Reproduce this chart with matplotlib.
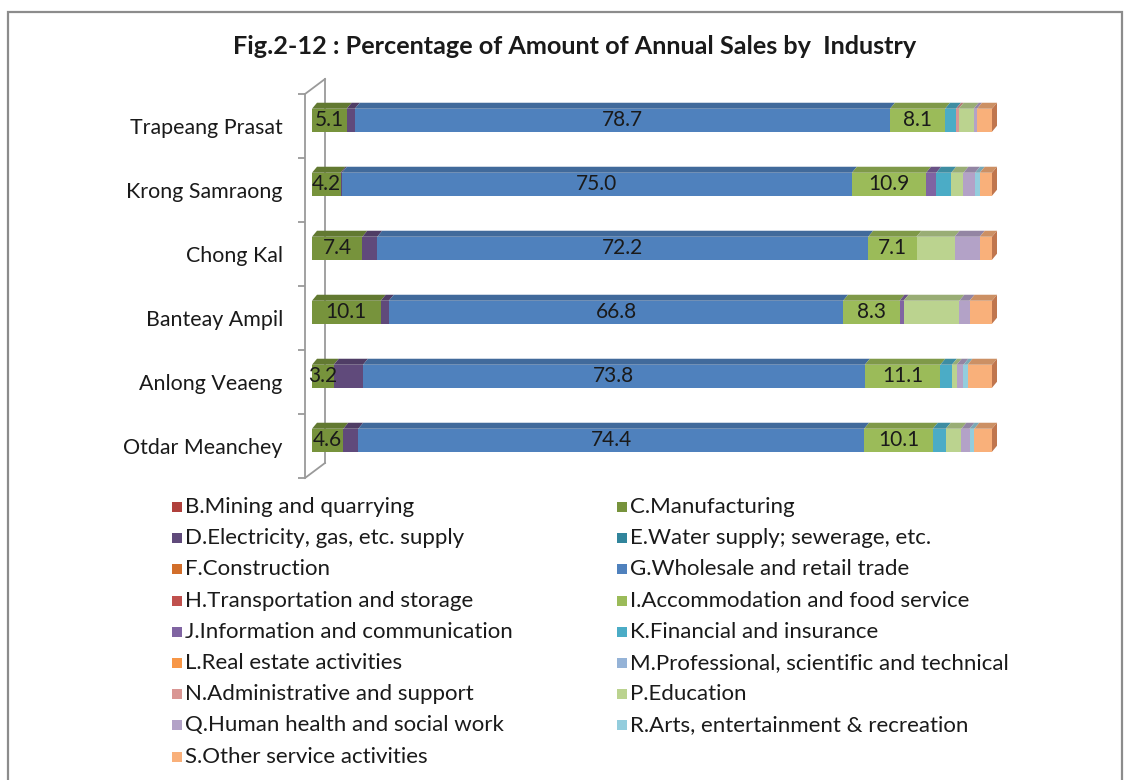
import matplotlib
matplotlib.use("Agg")
import matplotlib.pyplot as plt
from matplotlib.patches import Polygon, Rectangle
import matplotlib.colors as mcolors
import numpy as np

plt.rcParams['font.family'] = ['Lato', 'DejaVu Sans']

# regions, bottom to top
regions = ["Otdar Meanchey", "Anlong Veaeng", "Banteay Ampil",
           "Chong Kal", "Krong Samraong", "Trapeang Prasat"]

industries = ["B.Mining and quarrying", "C.Manufacturing",
              "D.Electricity, gas, etc. supply", "E.Water supply; sewerage, etc.",
              "F.Construction", "G.Wholesale and retail trade",
              "H.Transportation and storage", "I.Accommodation and food service",
              "J.Information and communication", "K.Financial and insurance",
              "L.Real estate activities", "M.Professional, scientific and technical",
              "N.Administrative and support", "P.Education",
              "Q.Human health and social work", "R.Arts, entertainment & recreation",
              "S.Other service activities"]

colors = ["#B0403C", "#77933C", "#604A7B", "#31859C", "#D26E2A", "#4F81BD",
          "#C0504D", "#9BBB59", "#8064A2", "#4BACC6", "#F79646", "#95B3D7",
          "#D99694", "#BBD38F", "#B3A2C7", "#93CDDD", "#F9B07A"]

# percentage of annual sales, one list per industry (regions bottom to top)
val_B = [0, 0, 0, 0, 0, 0]
val_C = [4.6, 3.2, 10.1, 7.4, 4.2, 5.1]
val_D = [2.2, 4.3, 1.2, 2.2, 0.2, 1.2]
val_E = [0, 0, 0, 0, 0, 0]
val_F = [0, 0, 0, 0, 0, 0]
val_G = [74.4, 73.8, 66.8, 72.2, 75.0, 78.7]
val_H = [0, 0, 0, 0, 0, 0]
val_I = [10.1, 11.1, 8.3, 7.1, 10.9, 8.1]
val_J = [0, 0, 0.6, 0, 1.5, 0]
val_K = [1.9, 1.7, 0, 0, 2.2, 1.6]
val_L = [0, 0, 0, 0, 0, 0]
val_M = [0, 0, 0, 0, 0, 0]
val_N = [0, 0, 0, 0, 0, 0.4]
val_P = [2.3, 0.7, 8.2, 5.6, 1.8, 2.2]
val_Q = [1.2, 1.0, 1.5, 3.7, 1.7, 0.5]
val_R = [0.7, 0.6, 0, 0, 0.7, 0]
val_S = [2.6, 3.6, 3.3, 1.8, 1.8, 2.2]

values = [val_B, val_C, val_D, val_E, val_F, val_G, val_H, val_I, val_J,
          val_K, val_L, val_M, val_N, val_P, val_Q, val_R, val_S]
labelled = [1, 5, 7]  # C, G, I get data labels

W, H = 1131, 780
fig = plt.figure(figsize=(W / 100, H / 100), dpi=100)

# axes placed in pixels: spine at x=305, bars start at 312, 6.8 px per %
px_pct = 6.8
ax_l, ax_r, ax_t, ax_b = 305, 1010, 94, 478
ax = fig.add_axes([ax_l / W, 1 - ax_b / H, (ax_r - ax_l) / W, (ax_b - ax_t) / H])
ax.set_xlim(-(312 - ax_l) / px_pct, (ax_r - 312) / px_pct)
ax.set_ylim(-0.5, 5.5)
px_cat = (ax_b - ax_t) / 6.0

bar_h = 23 / px_cat
dy = 6 / px_cat
dx = 5 / px_pct
y_off = 0.09

def darker(c, f):
    r, g, b = mcolors.to_rgb(c)
    return (r * f, g * f, b * f)

ypos = np.arange(len(regions)) + y_off
lefts = np.zeros(len(regions))
for k, (vals, col) in enumerate(zip(values, colors)):
    vals = np.array(vals, dtype=float)
    ax.barh(ypos, vals, left=lefts, height=bar_h, color=col, linewidth=0, zorder=3)
    for i in range(len(regions)):
        if vals[i] <= 0:
            continue
        x0, x1 = lefts[i], lefts[i] + vals[i]
        yt = ypos[i] + bar_h / 2
        ax.add_patch(Polygon([(x0, yt), (x1, yt), (x1 + dx, yt + dy), (x0 + dx, yt + dy)],
                             closed=True, facecolor=darker(col, 0.82), linewidth=0, zorder=3))
        if k in labelled:
            ax.text((x0 + x1) / 2, ypos[i], f"{vals[i]:.1f}", ha='center', va='center',
                    fontsize=15, color='#1a1a1a', zorder=5)
    lefts = lefts + vals

# right side faces of the last segment
for i in range(len(regions)):
    xe = lefts[i]
    yb = ypos[i] - bar_h / 2
    yt = ypos[i] + bar_h / 2
    ax.add_patch(Polygon([(xe, yb), (xe, yt), (xe + dx, yt + dy), (xe + dx, yb + dy)],
                         closed=True, facecolor="#C0764E", linewidth=0, zorder=3))

# axis styling: only a grey left wall
for s in ['top', 'right', 'bottom']:
    ax.spines[s].set_visible(False)
ax.spines['left'].set_color('#9a9a9a')
ax.spines['left'].set_linewidth(1.3)
ax.set_xticks([])
ax.set_yticks(np.arange(len(regions)))
ax.set_yticklabels(regions, fontsize=15.4, color='#1a1a1a')
ax.tick_params(axis='y', which='major', length=0, pad=16)
ax.set_yticks(np.arange(-0.5, 6.0, 1.0), minor=True)
ax.tick_params(axis='y', which='minor', length=5, width=1.3, color='#9a9a9a', direction='out')

# 3D wall edges
xw0 = ax.get_xlim()[0]
wdx = 20 / px_pct
wdy = 15 / px_cat
ax.plot([xw0, xw0 + wdx], [5.5, 5.5 + wdy], color='#9a9a9a', lw=1.3, clip_on=False, zorder=1)
ax.plot([xw0 + wdx, xw0 + wdx], [5.5 + wdy, -0.5 + wdy], color='#9a9a9a', lw=1.3,
        clip_on=False, zorder=1)
ax.plot([xw0, xw0 + wdx], [-0.5, -0.5 + wdy], color='#9a9a9a', lw=1.3, clip_on=False, zorder=1)

fig.text(575 / W, 1 - 47 / H, "Fig.2-12 : Percentage of Amount of Annual Sales by  Industry",
         ha='center', va='center', fontsize=18.2, fontweight='bold', color='#1a1a1a')

# legend, two columns in row-major order
row0, row_step = 507, 31.2
col_x = [172, 617]
msize = 10
for k, (name, col) in enumerate(zip(industries, colors)):
    r, c = divmod(k, 2)
    yc = row0 + r * row_step
    fig.add_artist(Rectangle((col_x[c] / W, 1 - (yc + msize / 2) / H), msize / W, msize / H,
                             transform=fig.transFigure, facecolor=col, linewidth=0))
    fig.text((col_x[c] + 13) / W, 1 - yc / H, name, ha='left', va='center',
             fontsize=16, color='#1a1a1a')

# outer frame
fig.add_artist(Rectangle((8 / W, -0.05), (1122 - 8) / W, 1.05 - 12 / H,
                         transform=fig.transFigure, fill=False, edgecolor='#8c8c8c', linewidth=1.6))

fig.savefig("out.png", dpi=100)
